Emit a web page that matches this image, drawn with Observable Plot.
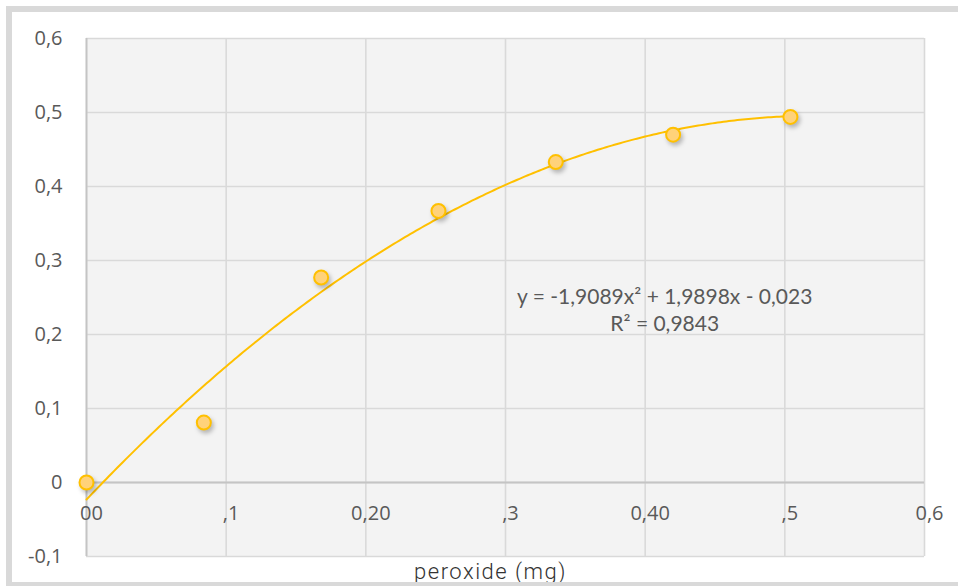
<!DOCTYPE html>
<html>
<head>
<meta charset="utf-8">
<script src="https://cdn.jsdelivr.net/npm/d3@7"></script>
<script src="https://cdn.jsdelivr.net/npm/@observablehq/plot@0.6"></script>
<style>
  html, body { margin: 0; padding: 0; background: #fff; width: 958px; height: 586px; overflow: hidden; }
  #border { position: absolute; left: 6px; top: 6px; width: 1000px; height: 570px; border: 6px solid #d9d9d9; box-sizing: content-box; pointer-events: none; z-index: 2; }
  #chart { position: absolute; left: 0; top: 0; z-index: 1; }
</style>
</head>
<body>
<div id="chart"></div>
<div id="border"></div>
<script>
// Measured points
const peroxide = [0, 0.084, 0.168, 0.252, 0.336, 0.42, 0.504];
const absorbance = [0, 0.081, 0.277, 0.367, 0.433, 0.470, 0.494];

// Trendline (polynomial, order 2) as printed on the chart
const trendCoef = [-1.9089, 1.9898, -0.023]; // a, b, c
const trendLabel = "y = -1,9089x² + 1,9898x - 0,023\nR² = 0,9843";
const trendLabelPos = [0.414, 0.235];

// Axis ticks and labels
const xTicks = [0, 0.1, 0.2, 0.3, 0.4, 0.5, 0.6];
const xTickLabels = ["00", ",1", "0,20", ",3", "0,40", ",5", "0,6"];
const yTicks = [-0.1, 0, 0.1, 0.2, 0.3, 0.4, 0.5, 0.6];
const yTickLabels = ["-0,1", "0", "0,1", "0,2", "0,3", "0,4", "0,5", "0,6"];
const xLabel = "peroxide (mg)";

const points = peroxide.map((x, i) => ({x, y: absorbance[i]}));
const xMax = peroxide[peroxide.length - 1];
const trend = d3.range(0, xMax + 1e-9, 0.002).concat([xMax]).map(x => ({
  x, y: trendCoef[0] * x * x + trendCoef[1] * x + trendCoef[2]
}));

const plot = Plot.plot({
  width: 958,
  height: 586,
  marginLeft: 86,
  marginRight: 34,
  marginTop: 38,
  marginBottom: 30,
  style: {fontFamily: "'Open Sans', sans-serif", fontSize: "20px", color: "#595959", background: "transparent", overflow: "visible"},
  x: {domain: [0, 0.6], axis: null},
  y: {domain: [-0.1, 0.6], axis: null},
  marks: [
    Plot.frame({fill: "#f3f3f3", stroke: "none"}),
    Plot.ruleX(xTicks, {stroke: "#d9d9d9", strokeWidth: 1.6}),
    Plot.ruleY(yTicks, {stroke: "#d9d9d9", strokeWidth: 1.6}),
    Plot.ruleY([0], {stroke: "#c4c4c4", strokeWidth: 1.8}),
    Plot.ruleX([0], {stroke: "#c4c4c4", strokeWidth: 1.8}),
    Plot.axisY({ticks: yTicks, tickFormat: (d, i) => yTickLabels[i], tickSize: 0, tickPadding: 24, fill: "#595959", fontSize: 20, label: null}),
    Plot.text(xTicks, {x: d => d, y: () => 0, text: (d, i) => xTickLabels[i], dy: 31, dx: 5, fill: "#595959", fontSize: 20}),
    Plot.text([xLabel], {frameAnchor: "bottom", text: d => d, dx: -15, dy: 22, lineAnchor: "bottom", fill: "#333333", fontSize: 22, fontWeight: 300, fontFamily: "Roboto, sans-serif"}),
    Plot.line(trend, {x: "x", y: "y", stroke: "#ffc000", strokeWidth: 2}),
    Plot.dot(points, {x: "x", y: "y", r: 7, fill: "#ffd27a", stroke: "#ffc000", strokeWidth: 2}),
    Plot.text([trendLabelPos], {x: d => d[0], y: d => d[1], text: () => trendLabel, fontFamily: "Lato, sans-serif", fontSize: 21, lineHeight: 1.33, fill: "#595959"})
  ]
});
document.getElementById("chart").appendChild(plot);

// Drop shadow on markers, letter spacing on the axis title
d3.select(plot).selectAll('g[aria-label="dot"]').style("filter", "drop-shadow(2px 3px 2px rgba(0,0,0,0.25))");
d3.select(plot).selectAll('text').filter(function() { return this.textContent === xLabel; })
  .style("letter-spacing", "1.5px");
</script>
</body>
</html>
